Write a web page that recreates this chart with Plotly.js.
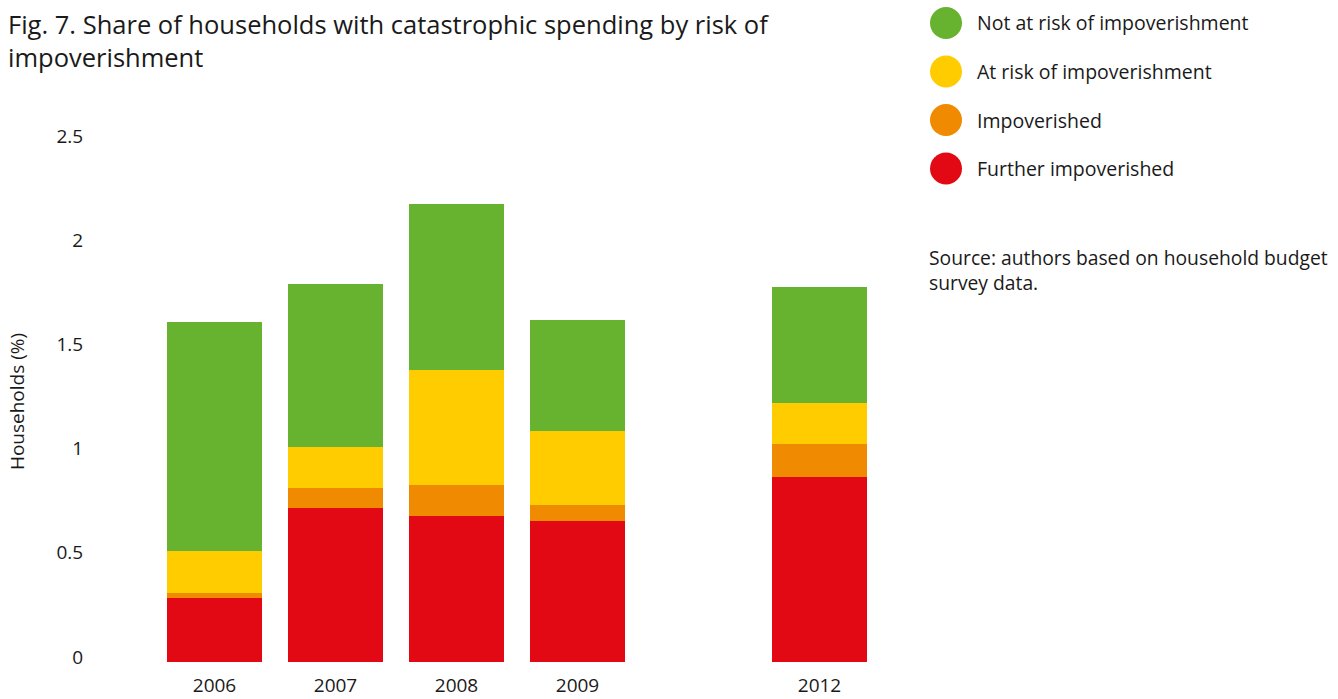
<!DOCTYPE html>
<html>
<head>
<meta charset="utf-8">
<script src="https://cdn.plot.ly/plotly-3.0.1.min.js"></script>
<style>html,body{margin:0;padding:0;background:#fff;}#chart{width:1338px;height:699px;}</style>
</head>
<body>
<div id="chart"></div>
<script>
// ---- data ----
const years = ['2006', '2007', '2008', '2009', '2010', '2012'];
const shownYears = ['2006', '2007', '2008', '2009', '2012'];
const furtherImpoverished = [0.307, 0.739, 0.701, 0.677, null, 0.888];
const impoverished        = [0.024, 0.096, 0.148, 0.076, null, 0.158];
const atRisk              = [0.202, 0.197, 0.552, 0.355, null, 0.197];
const notAtRisk           = [1.098, 0.782, 0.797, 0.533, null, 0.556];
const seriesNames = ['Not at risk of impoverishment', 'At risk of impoverishment', 'Impoverished', 'Further impoverished'];
const yTicks = [0, 0.5, 1, 1.5, 2, 2.5];
const yTickText = ['0', '0.5', '1', '1.5', '2', '2.5'];

// ---- styles ----
const colors = {
  notAtRisk: '#67b32f',
  atRisk: '#ffcc00',
  impoverished: '#f08a00',
  further: '#e30914'
};
const FONT = 'Open Sans, Noto Sans, sans-serif';
const TXT = '#1a1a1a';

function bar(name, vals, color) {
  return { type: 'bar', name: name, x: years, y: vals, marker: { color: color, line: { width: 0 } },
           showlegend: false, hoverinfo: 'x+y+name' };
}

const traces = [
  bar(seriesNames[3], furtherImpoverished, colors.further),
  bar(seriesNames[2], impoverished, colors.impoverished),
  bar(seriesNames[1], atRisk, colors.atRisk),
  bar(seriesNames[0], notAtRisk, colors.notAtRisk)
];

// plot area in pixels
const L = 154, R = 880, T = 141, B = 662, W = 1338, H = 699;
const px2x = x => (x - L) / (R - L);
const px2y = y => (B - y) / (B - T);

const legendColors = [colors.notAtRisk, colors.atRisk, colors.impoverished, colors.further];
const shapes = [];
const annotations = [];
legendColors.forEach((c, i) => {
  const cy = 23 + i * 48.5;
  shapes.push({ type: 'circle', xref: 'paper', yref: 'paper', xsizemode: 'pixel', ysizemode: 'pixel',
    xanchor: px2x(946), yanchor: px2y(cy), x0: -16, x1: 16, y0: -16, y1: 16,
    fillcolor: c, line: { width: 0 } });
  annotations.push({ xref: 'paper', yref: 'paper', x: px2x(975), y: px2y(cy), xanchor: 'left', yanchor: 'middle',
    text: seriesNames[i], showarrow: false, font: { family: FONT, size: 19.5, color: TXT } });
});
annotations.push({ xref: 'paper', yref: 'paper', x: px2x(927), y: px2y(242), xanchor: 'left', yanchor: 'top', align: 'left',
  text: 'Source: authors based on household budget<br>survey data.', showarrow: false,
  font: { family: FONT, size: 19.3, color: TXT } });

const layout = {
  width: W, height: H,
  margin: { l: L, r: W - R, t: T, b: H - B, pad: 0 },
  paper_bgcolor: '#fff', plot_bgcolor: '#fff',
  barmode: 'stack', bargap: 0.215,
  font: { family: FONT, color: TXT, size: 19 },
  title: { text: 'Fig. 7. Share of households with catastrophic spending by risk of<br>impoverishment',
    xref: 'container', yref: 'container', x: 8 / W, xanchor: 'left', y: 1 - 34 / H, yanchor: 'top',
    font: { family: FONT, size: 25.5, color: TXT } },
  xaxis: { type: 'category', categoryorder: 'array', categoryarray: years,
    tickvals: shownYears, ticktext: shownYears, range: [-0.5, 5.5],
    showgrid: false, zeroline: false, showline: false,
    ticks: 'outside', ticklen: 6, tickcolor: 'rgba(0,0,0,0)',
    tickfont: { family: FONT, size: 19, color: TXT }, fixedrange: true },
  yaxis: { range: [0, 2.5], tickvals: yTicks, ticktext: yTickText,
    showgrid: false, zeroline: false, showline: false,
    ticks: 'outside', ticklen: 66, tickcolor: 'rgba(0,0,0,0)', ticklabelshift: -5,
    tickfont: { family: FONT, size: 19, color: TXT },
    title: { text: 'Households (%)', font: { family: FONT, size: 19, color: TXT }, standoff: 26 },
    fixedrange: true },
  shapes: shapes,
  annotations: annotations
};

Plotly.newPlot('chart', traces, layout, { displayModeBar: false, staticPlot: true });
</script>
</body>
</html>
